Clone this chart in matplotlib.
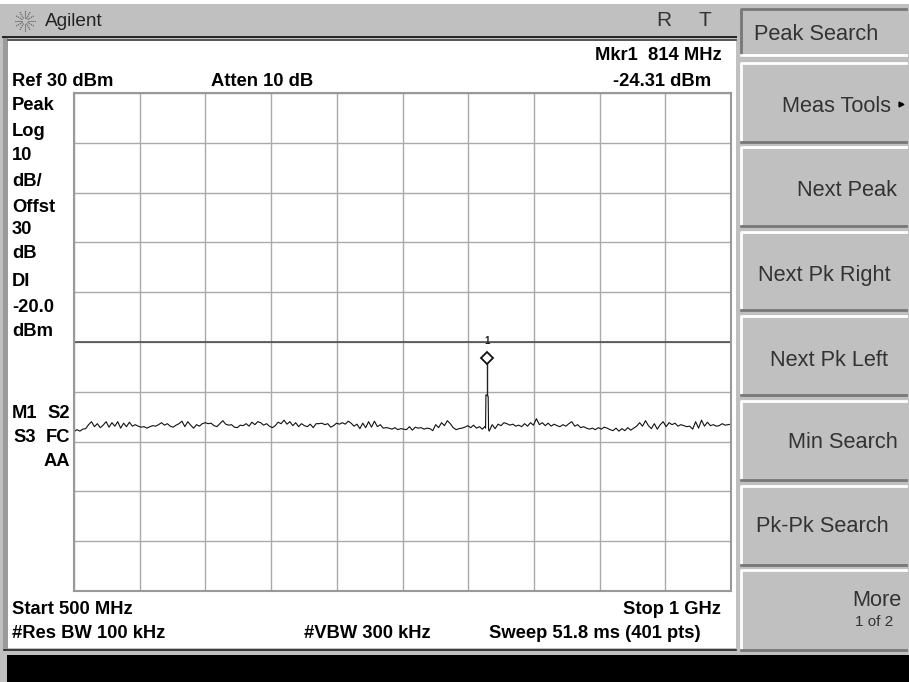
import matplotlib
matplotlib.use("Agg")
import matplotlib.pyplot as plt
from matplotlib.patches import Rectangle
import numpy as np

W, H = 909, 682
GRAY = "#c0c0c0"

# trace, dBm
noise_left = [-38.0, -37.6, -37.9, -37.5, -37.4, -36.6, -36.0, -37.0, -36.4, -37.2,
              -36.7, -36.0, -37.1, -36.2, -36.9, -36.0, -37.3, -36.3, -37.0, -36.1,
              -36.9, -36.6, -36.9, -37.1, -37.0, -37.3, -37.0, -36.8, -36.9, -36.6,
              -36.2, -36.7, -36.4, -36.9, -37.1, -36.7, -36.4, -35.9, -37.0, -36.0,
              -36.7, -37.3, -36.6, -36.9, -36.4, -36.2, -36.4, -36.3, -36.8, -37.0,
              -36.4, -35.8, -36.5, -36.7, -36.6, -37.1, -37.2, -36.7, -36.8, -36.4,
              -36.9, -36.1, -36.6, -36.0, -36.2, -36.7, -36.4, -36.9, -37.2, -36.8,
              -36.1, -36.4, -35.7, -36.5, -36.0, -36.8, -36.2, -37.0, -36.4, -36.8,
              -37.0, -36.5, -37.2, -36.4, -36.4, -36.3, -36.6, -36.4, -37.1, -36.8,
              -36.3, -36.5, -36.2, -36.5, -35.9, -36.3, -36.9, -36.5, -37.4, -36.3,
              -37.2, -36.0, -37.1, -35.9, -37.0, -36.6, -37.3, -37.2, -37.3, -37.5,
              -37.2, -37.6, -37.4, -37.5, -37.6, -37.0, -37.7, -37.1, -37.3, -37.2,
              -37.5, -37.3, -37.4, -37.8, -36.6, -37.2, -36.2, -36.8, -35.8, -36.4,
              -37.2, -37.6, -37.4, -37.3, -37.1, -36.8, -37.2, -36.7, -37.3, -37.0,
              -37.5, -36.9]
noise_right = [-37.9, -36.6, -37.4, -36.5, -36.8, -36.2, -36.4, -36.7, -36.5, -36.9,
               -36.7, -37.0, -36.4, -36.9, -36.2, -36.7, -35.4, -36.6, -36.2, -36.8,
               -36.3, -36.9, -36.5, -36.8, -37.0, -36.6, -36.9, -36.4, -36.0, -36.9,
               -36.6, -37.2, -37.0, -37.3, -37.5, -37.3, -37.6, -37.2, -37.5, -37.1,
               -37.3, -37.6, -37.8, -37.3, -37.9, -37.4, -37.8, -37.2, -37.7, -37.3,
               -36.9, -36.2, -36.9, -35.8, -36.8, -37.4, -36.4, -37.5, -36.6, -36.0,
               -37.0, -36.2, -36.6, -36.3, -36.9, -36.6, -36.8, -37.0, -36.9, -37.5,
               -36.0, -37.3, -35.7, -36.9, -36.1, -36.8, -36.6, -36.9, -36.8, -36.4,
               -36.7, -36.6, -36.5]
freq_left = np.linspace(500, 813, len(noise_left))
freq_right = np.linspace(816, 1000, len(noise_right))
spike_freq = [813.2, 813.5, 815.2, 815.5]
spike_level = [-37.3, -30.6, -30.9, -37.6]
marker_freq = 814.3
marker_level = -23.2
display_line = -20

freq = np.concatenate([freq_left, spike_freq, freq_right])
level = np.concatenate([noise_left, spike_level, noise_right])

# label, top and bottom pixel row and text row of each softkey
buttons = [("Peak Search", 9, 55, 35), ("Meas Tools", 63, 142, 107), ("Next Peak", 147, 226, 190),
           ("Next Pk Right", 232, 310, 275), ("Next Pk Left", 316, 395, 360), ("Min Search", 401, 480, 443),
           ("Pk-Pk Search", 486, 565, 527), ("More", 570, 650, 600)]
button_right = [None, 891, 897, 891, 888, 898, 889, 902]

left_labels = [("Peak", 105), ("Log", 131), ("10", 156), ("dB/", 181), ("Offst", 208), ("30", 230),
               ("dB", 253), ("DI", 282), ("-20.0", 307), ("dBm", 331)]

fig = plt.figure(figsize=(W / 100, H / 100), dpi=100, facecolor="white")
plt.rcParams["font.family"] = ["Liberation Sans", "DejaVu Sans"]

# everything round the graticule is placed in pixels
bg = fig.add_axes([0, 0, 1, 1])
bg.set_xlim(0, W)
bg.set_ylim(H, 0)
bg.axis("off")

bg.add_patch(Rectangle((0, 4), W, 678, color=GRAY, lw=0))
bg.add_patch(Rectangle((3, 38), 5, 612, color="#9a9a9a", lw=0))
bg.add_patch(Rectangle((8, 41), 728, 607, color="white", lw=0))
bg.plot([3, 736], [37, 37], color="#222222", lw=1.4)
bg.plot([8, 736], [40, 40], color="#444444", lw=1.2)
bg.plot([4, 736], [650, 650], color="#222222", lw=1.2)
bg.add_patch(Rectangle((7, 655), W - 7, 27, color="black", lw=0))

# logo
for a in np.arange(0, 360, 30):
    c, s = np.cos(np.radians(a)), np.sin(np.radians(a))
    bg.plot([25 + 3 * c, 25 + 11 * c], [21 + 3 * s, 21 + 11 * s], color="#555555", lw=0.8, ls=(0, (1, 0.8)))
bg.text(45, 21, "Agilent", fontsize=13.7, va="center", color="#222222")
bg.text(664, 21, "R", fontsize=15, va="center", ha="center", color="#333333")
bg.text(705, 21, "T", fontsize=15, va="center", ha="center", color="#333333")

bold = dict(fontsize=13.2, fontweight="bold", color="black", va="center")
bg.text(12, 82, "Ref 30 dBm", **bold)
bg.text(211, 82, "Atten 10 dB", **bold)
bg.text(722, 56, "Mkr1  814 MHz", ha="right", **bold)
bg.text(711, 82, "-24.31 dBm", ha="right", **bold)
for txt, y in left_labels:
    bg.text(12, y, txt, **bold)
bg.text(12, 413, "M1", **bold)
bg.text(70, 413, "S2", ha="right", **bold)
bg.text(13, 437, "S3", **bold)
bg.text(70, 437, "FC", ha="right", **bold)
bg.text(70, 462, "AA", ha="right", **bold)
bg.text(12, 609, "Start 500 MHz", **bold)
bg.text(721, 609, "Stop 1 GHz", ha="right", **bold)
bg.text(12, 634, "#Res BW 100 kHz", **bold)
bg.text(304, 634, "#VBW 300 kHz", **bold)
bg.text(489, 634, "Sweep 51.8 ms (401 pts)", **bold)

# softkeys
for i, (txt, top, bottom, ty) in enumerate(buttons):
    x0, x1 = 741, 906
    if i == 0:
        bg.plot([x0, x0, x1], [bottom, top, top], color="#777777", lw=2)
        bg.plot([x0, x1], [bottom, bottom], color="white", lw=2)
        bg.text(754, ty, txt, fontsize=15.7, va="center", color="#333333")
    else:
        bg.plot([x0, x0, x1], [bottom, top, top], color="white", lw=2)
        bg.plot([x0, x1], [bottom, bottom], color="#777777", lw=2)
        bg.text(button_right[i], ty, txt, fontsize=15.7, va="center", ha="right", color="#333333")
bg.text(893, 622, "1 of 2", fontsize=11, va="center", ha="right", color="#333333")
bg.plot([901], [104], marker=">", ms=3.5, color="black")

# graticule
ax = fig.add_axes([74 / W, 1 - 591 / H, (731 - 74) / W, (591 - 93) / H])
ax.set_xlim(500, 1000)
ax.set_ylim(-70, 30)
ax.set_xticks(np.arange(500, 1001, 50))
ax.set_yticks(np.arange(-70, 31, 10))
ax.grid(True, color="#aaaaaa", lw=1)
ax.tick_params(length=0, labelbottom=False, labelleft=False)
for sp in ax.spines.values():
    sp.set_color("#999999")
    sp.set_linewidth(1.5)

ax.axhline(display_line, color="#444444", lw=1.1)
ax.plot(freq, level, color="#111111", lw=0.8)
ax.plot([marker_freq, marker_freq], [marker_level, -30.6], color="#222222", lw=1)
ax.plot([marker_freq], [marker_level], marker="D", ms=6.5, mfc="white", mec="#111111", mew=1.3)
ax.text(marker_freq, -19.8, "1", fontsize=7, fontweight="bold", ha="center", va="center", color="#222222")

fig.savefig("out.png", dpi=100)
